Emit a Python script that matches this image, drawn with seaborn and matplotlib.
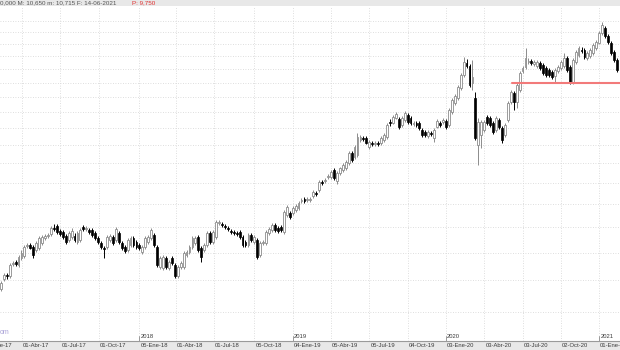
import matplotlib
matplotlib.use("Agg")
import matplotlib.pyplot as plt
import matplotlib.transforms as mtransforms
from matplotlib.ticker import NullLocator
import seaborn as sns
import pandas as pd

# ---------------- data (weekly candles) ----------------
first_week = "2017-02-10"
opens = [
    4.36, 4.53, 4.60, 4.57, 4.79, 4.83, 4.77, 4.90, 4.94, 5.13,
    5.15, 5.11, 5.05, 5.09, 5.19, 5.28, 5.32, 5.36, 5.48, 5.53,
    5.42, 5.40, 5.32, 5.24, 5.30, 5.32, 5.20, 5.24, 5.51, 5.46,
    5.44, 5.44, 5.38, 5.28, 5.19, 5.09, 5.11, 5.24, 5.30, 5.24,
    5.38, 5.19, 5.11, 5.05, 5.15, 5.28, 5.20, 5.15, 5.01, 5.11,
    5.20, 5.28, 5.34, 5.11, 4.73, 4.72, 4.90, 4.72, 4.90, 4.77,
    4.58, 4.73, 4.73, 4.96, 5.01, 5.11, 5.19, 5.30, 5.09, 5.05,
    5.15, 5.38, 5.20, 5.30, 5.59, 5.57, 5.53, 5.48, 5.42, 5.40,
    5.38, 5.40, 5.30, 5.20, 5.15, 5.34, 5.20, 5.24, 4.96, 5.19,
    5.19, 5.38, 5.44, 5.55, 5.48, 5.51, 5.40, 5.76, 5.81, 5.81,
    5.87, 5.92, 6.08, 6.12, 6.10, 6.10, 6.19, 6.26, 6.33, 6.53,
    6.55, 6.65, 6.65, 6.83, 6.55, 6.75, 6.83, 6.88, 7.01, 7.28,
    7.17, 7.23, 7.65, 7.71, 7.71, 7.45, 7.56, 7.53, 7.56, 7.56,
    7.65, 7.73, 8.19, 8.16, 8.31, 8.28, 8.09, 8.25, 8.40, 8.31,
    8.12, 8.16, 8.16, 7.94, 7.88, 7.76, 7.85, 7.71, 8.03, 8.16,
    8.19, 8.22, 8.09, 8.50, 8.79, 8.96, 9.31, 9.78, 10.23, 10.11,
    9.48, 8.96, 7.50, 7.79, 7.94, 8.34, 8.31, 8.16, 7.94, 8.25,
    8.00, 7.79, 8.25, 8.83, 9.13, 8.83, 9.24, 9.92, 10.07, 10.27,
    10.31, 10.19, 10.11, 10.23, 10.15, 10.03, 9.96, 9.89, 9.74, 9.92,
    10.03, 10.11, 10.43, 10.07, 9.48, 10.27, 10.54, 10.74, 10.74, 10.43,
    10.51, 10.62, 10.83, 11.04, 11.46, 11.68, 11.33, 11.04, 10.66, 10.35,
]
highs = [
    4.49, 4.63, 4.62, 4.81, 4.84, 4.86, 4.96, 5.04, 5.15, 5.19,
    5.19, 5.15, 5.22, 5.32, 5.34, 5.36, 5.38, 5.53, 5.57, 5.57,
    5.46, 5.44, 5.36, 5.42, 5.48, 5.38, 5.42, 5.48, 5.55, 5.53,
    5.48, 5.48, 5.42, 5.32, 5.22, 5.13, 5.34, 5.36, 5.34, 5.51,
    5.42, 5.22, 5.15, 5.28, 5.32, 5.32, 5.24, 5.19, 5.15, 5.32,
    5.34, 5.48, 5.38, 5.15, 4.94, 4.96, 4.94, 4.86, 4.94, 4.81,
    4.77, 4.84, 5.03, 5.05, 5.15, 5.32, 5.32, 5.34, 5.13, 5.19,
    5.42, 5.42, 5.44, 5.65, 5.65, 5.61, 5.57, 5.53, 5.46, 5.44,
    5.42, 5.44, 5.34, 5.24, 5.38, 5.38, 5.34, 5.28, 5.22, 5.24,
    5.44, 5.51, 5.59, 5.59, 5.53, 5.55, 5.87, 5.98, 5.85, 5.96,
    6.01, 6.08, 6.14, 6.17, 6.17, 6.17, 6.33, 6.31, 6.58, 6.58,
    6.63, 6.73, 6.83, 6.88, 6.80, 6.91, 7.01, 7.09, 7.33, 7.33,
    7.50, 7.85, 7.79, 7.76, 7.76, 7.65, 7.62, 7.62, 7.62, 7.76,
    7.85, 8.16, 8.28, 8.40, 8.50, 8.34, 8.37, 8.53, 8.47, 8.37,
    8.22, 8.22, 8.22, 8.00, 7.94, 7.94, 7.91, 8.00, 8.28, 8.22,
    8.31, 8.28, 8.63, 8.96, 9.10, 9.41, 9.85, 10.47, 10.39, 10.19,
    10.35, 9.17, 8.31, 8.25, 8.25, 8.40, 8.37, 8.22, 8.37, 8.31,
    8.06, 8.16, 8.86, 9.24, 9.20, 9.48, 9.92, 10.11, 10.83, 10.43,
    10.39, 10.35, 10.35, 10.31, 10.23, 10.11, 10.03, 9.96, 10.03, 10.15,
    10.35, 10.62, 10.51, 10.15, 10.43, 10.74, 10.91, 10.87, 10.83, 10.70,
    10.83, 11.04, 11.16, 11.55, 11.94, 11.77, 11.42, 11.12, 10.74, 10.43,
]
lows = [
    4.33, 4.49, 4.53, 4.55, 4.75, 4.75, 4.73, 4.86, 4.90, 5.09,
    5.07, 4.90, 5.01, 5.05, 5.15, 5.24, 5.28, 5.32, 5.42, 5.36,
    5.32, 5.26, 5.17, 5.20, 5.26, 5.20, 5.17, 5.20, 5.42, 5.42,
    5.36, 5.30, 5.24, 5.17, 5.07, 4.90, 5.07, 5.20, 5.15, 5.20,
    5.17, 5.05, 5.00, 5.01, 5.11, 5.11, 5.07, 5.05, 4.98, 5.07,
    5.17, 5.24, 5.11, 4.73, 4.70, 4.68, 4.70, 4.68, 4.77, 4.55,
    4.55, 4.70, 4.70, 4.92, 4.98, 5.07, 5.15, 5.01, 4.83, 5.01,
    5.11, 5.17, 5.17, 5.26, 5.55, 5.51, 5.46, 5.42, 5.36, 5.34,
    5.32, 5.26, 5.11, 5.11, 5.11, 5.20, 5.17, 4.88, 4.92, 5.15,
    5.15, 5.34, 5.40, 5.40, 5.38, 5.40, 5.36, 5.72, 5.68, 5.76,
    5.83, 5.87, 6.03, 6.03, 6.05, 6.05, 6.14, 6.19, 6.28, 6.45,
    6.50, 6.60, 6.60, 6.58, 6.48, 6.70, 6.78, 6.83, 6.96, 7.04,
    7.12, 7.17, 7.59, 7.62, 7.53, 7.39, 7.47, 7.47, 7.47, 7.50,
    7.59, 7.68, 8.06, 8.12, 8.28, 7.97, 8.03, 8.19, 8.12, 8.09,
    8.06, 8.03, 7.94, 7.73, 7.73, 7.71, 7.76, 7.59, 8.00, 8.03,
    8.12, 7.97, 8.03, 8.43, 8.73, 8.89, 9.24, 9.71, 10.03, 9.34,
    9.24, 7.65, 6.96, 7.42, 7.88, 8.09, 8.03, 7.82, 7.88, 7.97,
    7.56, 7.73, 8.19, 8.76, 8.56, 8.63, 9.17, 9.85, 9.99, 10.19,
    10.15, 10.11, 10.03, 9.96, 9.78, 9.71, 9.71, 9.63, 9.52, 9.85,
    9.96, 10.03, 9.89, 9.45, 9.45, 10.19, 10.47, 10.62, 10.39, 10.35,
    10.43, 10.54, 10.74, 10.99, 11.37, 11.24, 11.00, 10.54, 10.27, 9.89,
]
closes = [
    4.46, 4.60, 4.57, 4.77, 4.81, 4.79, 4.92, 5.00, 5.11, 5.15,
    5.09, 4.96, 5.19, 5.28, 5.30, 5.32, 5.34, 5.48, 5.46, 5.40,
    5.36, 5.30, 5.20, 5.38, 5.42, 5.24, 5.38, 5.44, 5.46, 5.48,
    5.40, 5.34, 5.28, 5.20, 5.11, 5.07, 5.30, 5.32, 5.19, 5.46,
    5.20, 5.09, 5.03, 5.24, 5.28, 5.15, 5.11, 5.09, 5.11, 5.28,
    5.30, 5.44, 5.15, 4.77, 4.90, 4.92, 4.73, 4.83, 4.81, 4.58,
    4.73, 4.81, 5.00, 5.01, 5.11, 5.28, 5.28, 5.05, 4.92, 5.15,
    5.38, 5.20, 5.40, 5.61, 5.61, 5.55, 5.51, 5.46, 5.40, 5.38,
    5.36, 5.30, 5.15, 5.15, 5.34, 5.24, 5.30, 4.92, 5.19, 5.20,
    5.40, 5.46, 5.55, 5.44, 5.42, 5.44, 5.83, 5.94, 5.72, 5.92,
    5.96, 6.03, 6.10, 6.08, 6.12, 6.12, 6.28, 6.24, 6.53, 6.50,
    6.58, 6.68, 6.78, 6.63, 6.75, 6.88, 6.96, 7.04, 7.28, 7.09,
    7.45, 7.73, 7.73, 7.68, 7.56, 7.59, 7.53, 7.56, 7.53, 7.71,
    7.79, 8.09, 8.16, 8.34, 8.43, 8.03, 8.31, 8.47, 8.19, 8.16,
    8.16, 8.09, 8.00, 7.79, 7.79, 7.88, 7.82, 7.94, 8.22, 8.09,
    8.25, 8.03, 8.56, 8.89, 9.03, 9.34, 9.78, 10.27, 10.11, 9.41,
    9.71, 7.71, 8.19, 8.19, 8.19, 8.16, 8.09, 7.88, 8.31, 8.03,
    7.65, 8.09, 8.79, 9.17, 8.83, 9.41, 9.85, 10.03, 10.43, 10.31,
    10.23, 10.27, 10.27, 10.03, 9.85, 9.78, 9.78, 9.71, 9.96, 10.07,
    10.27, 10.43, 9.96, 9.48, 10.35, 10.66, 10.83, 10.70, 10.47, 10.62,
    10.74, 10.95, 11.08, 11.46, 11.81, 11.33, 11.08, 10.62, 10.35, 9.96,
]
support_level = 9.47
support_start = "2020-06-08"
grid_prices = [4.0, 4.5, 5.0, 5.5, 6.0, 6.5, 7.0, 7.5, 8.0, 8.5,
               9.0, 9.5, 10.0, 10.5, 11.0, 11.5, 12.0]
tick_dates = ["2017-01-01", "2017-04-01", "2017-07-01", "2017-10-01",
              "2018-01-05", "2018-04-01", "2018-07-01", "2018-10-05",
              "2019-01-04", "2019-04-05", "2019-07-05", "2019-10-04",
              "2020-01-03", "2020-04-03", "2020-07-03", "2020-10-02",
              "2021-01-01"]
tick_labels = ["01-Ene-17", "01-Abr-17", "01-Jul-17", "01-Oct-17",
               "05-Ene-18", "01-Abr-18", "01-Jul-18", "05-Oct-18",
               "04-Ene-19", "05-Abr-19", "05-Jul-19", "04-Oct-19",
               "03-Ene-20", "03-Abr-20", "03-Jul-20", "02-Oct-20",
               "01-Ene-21"]
year_dates = ["2018-01-05", "2019-01-04", "2020-01-03", "2021-01-01"]
year_labels = ["2018", "2019", "2020", "2021"]
header_text = "0,000 M: 10,650 m: 10,715 F: 14-06-2021"
header_red = "P: 9,750"

# ---------------- figure ----------------
sns.set_theme(style="white")
plt.rcParams["font.family"] = ["Liberation Sans", "DejaVu Sans"]

df = pd.DataFrame({
    "date": pd.date_range(first_week, periods=len(closes), freq="7D"),
    "open": opens, "high": highs, "low": lows, "close": closes,
})
up = df["close"] >= df["open"]
dn = ~up

W, H = 620, 350
fig = plt.figure(figsize=(6.2, 3.5), dpi=100, facecolor="#e8e8e8")
ax = fig.add_axes([0, 9 / H, 1, 335 / H])
ax.set_facecolor("white")
ax.set_yscale("log")

x0 = pd.Timestamp("2017-02-08")
x1 = x0 + pd.Timedelta(days=620 / 0.42108)

# grid
for p in grid_prices:
    ax.axhline(p, color="#d4d4d4", lw=0.6, ls=(0, (1, 2)), zorder=0)
for d in tick_dates:
    ax.axvline(pd.Timestamp(d), color="#d4d4d4", lw=0.6, ls=(0, (1, 2)), zorder=0)

# wicks
ax.vlines(df["date"][up], df["low"][up], df["high"][up], color="#8c8c8c", lw=0.7, zorder=2)
ax.vlines(df["date"][dn], df["low"][dn], df["high"][dn], color="black", lw=0.7, zorder=2)
# bodies
ax.bar(df["date"][up], (df["close"] - df["open"])[up], bottom=df["open"][up], width=4.4,
       color="white", edgecolor="#8c8c8c", linewidth=0.6, zorder=3)
ax.bar(df["date"][dn], (df["open"] - df["close"])[dn], bottom=df["close"][dn], width=4.4,
       color="black", edgecolor="black", linewidth=0.5, zorder=3)

# support line
sns.lineplot(x=[pd.Timestamp(support_start), x1], y=[support_level, support_level],
             color="#f27a7a", lw=1.5, ax=ax, zorder=4)

ax.set_xlim(x0, x1)
ax.set_ylim(3.58, 12.69)
ax.set_xlabel("")
ax.set_ylabel("")
ax.yaxis.set_major_locator(NullLocator())
ax.yaxis.set_minor_locator(NullLocator())
ax.grid(False)
for s in ["top", "left", "right"]:
    ax.spines[s].set_visible(False)
ax.spines["bottom"].set_color("#9a9a9a")
ax.spines["bottom"].set_linewidth(0.8)

inside = [pd.Timestamp(d) for d in tick_dates if x0 <= pd.Timestamp(d) <= x1]
ax.set_xticks(inside)
ax.set_xticklabels([])
ax.xaxis.set_minor_locator(NullLocator())
ax.tick_params(axis="x", direction="out", length=6.5, width=0.6, color="#9a9a9a", pad=0)

trans_fig = mtransforms.blended_transform_factory(ax.transData, fig.transFigure)
shift = pd.Timedelta(days=2.5)
for d, lab in zip(tick_dates, tick_labels):
    ax.text(pd.Timestamp(d) + shift, 4.2 / H, lab, transform=trans_fig, fontsize=4.2,
            color="#3a3a3a", ha="left", va="center", clip_on=False)

trans_ax = mtransforms.blended_transform_factory(ax.transData, ax.transAxes)
for d, lab in zip(year_dates, year_labels):
    dt = pd.Timestamp(d)
    ax.plot([dt, dt], [0, 5 / 335], color="#8c8c8c", lw=0.6, transform=trans_ax, clip_on=False)
    ax.text(dt + shift, 13.5 / H, lab, transform=trans_fig, fontsize=4.2,
            color="#3a3a3a", ha="left", va="center", clip_on=False)

fig.text(0.5 / W, (H - 3) / H, header_text, fontsize=4.5, color="#555555", ha="left", va="center")
fig.text(132 / W, (H - 3) / H, header_red, fontsize=4.5, color="#e03030", ha="left", va="center")
fig.text(0.0, (H - 333) / H, "om", fontsize=5, color="#aaa3d8", ha="left", va="center")

fig.savefig("out.png", dpi=100, facecolor=fig.get_facecolor())
